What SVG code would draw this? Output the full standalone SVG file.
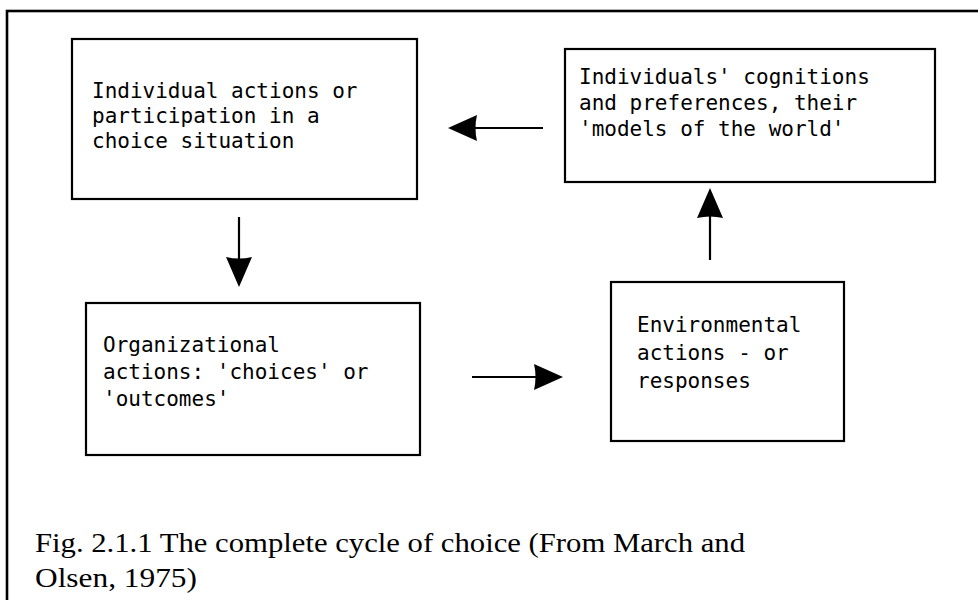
<svg xmlns="http://www.w3.org/2000/svg" width="978" height="600" viewBox="0 0 978 600">
  <style>
    .box { fill: #fff; stroke: #000; stroke-width: 2.2; }
    .label { font-family: "DejaVu Sans Mono", "Liberation Mono", monospace; font-size: 21px; fill: #000; }
    .edge { stroke: #000; stroke-width: 2.2; fill: none; }
    .head { fill: #000; stroke: none; }
    .caption { font-family: "Liberation Serif", "DejaVu Serif", serif; font-size: 28px; fill: #000; }
  </style>

  <rect x="0" y="0" width="978" height="600" fill="#fff"/>
  <!-- outer frame, open to the right and bottom -->
  <rect x="7" y="11" width="1000" height="700" fill="none" stroke="#000" stroke-width="2.6"/>

  <g id="node-individual-actions">
    <rect class="box" x="72" y="39" width="345" height="160"/>
    <text class="label" x="92" y="98">Individual actions or</text>
    <text class="label" x="92" y="123">participation in a</text>
    <text class="label" x="92" y="148">choice situation</text>
  </g>

  <g id="node-cognitions">
    <rect class="box" x="565" y="49" width="370" height="133"/>
    <text class="label" x="579" y="84">Individuals' cognitions</text>
    <text class="label" x="579" y="110">and preferences, their</text>
    <text class="label" x="579" y="136">'models of the world'</text>
  </g>

  <g id="node-organizational-actions">
    <rect class="box" x="86" y="303" width="334" height="152"/>
    <text class="label" x="103" y="352">Organizational</text>
    <text class="label" x="103" y="379">actions: 'choices' or</text>
    <text class="label" x="103" y="406">'outcomes'</text>
  </g>

  <g id="node-environmental-actions">
    <rect class="box" x="611" y="282" width="233" height="159"/>
    <text class="label" x="637" y="332">Environmental</text>
    <text class="label" x="637" y="360">actions - or</text>
    <text class="label" x="637" y="388">responses</text>
  </g>

  <g id="connectors">
    <!-- cognitions -> individual actions -->
    <line class="edge" x1="543" y1="128" x2="474" y2="128"/>
    <path class="head" d="M448,128 L477,115 Q474,128 477,141 Z"/>
    <!-- individual actions -> organizational actions -->
    <line class="edge" x1="239" y1="217" x2="239" y2="260"/>
    <path class="head" d="M239,287 L226,257 Q239,260 252,257 Z"/>
    <!-- organizational actions -> environmental actions -->
    <line class="edge" x1="472" y1="377" x2="537" y2="377"/>
    <path class="head" d="M563,377 L534,364 Q537,377 534,390 Z"/>
    <!-- environmental actions -> cognitions -->
    <line class="edge" x1="710" y1="260" x2="710" y2="216"/>
    <path class="head" d="M710,188 L697,218 Q710,215 723,218 Z"/>
  </g>

  <text class="caption" x="35" y="552" textLength="710" lengthAdjust="spacingAndGlyphs">Fig. 2.1.1 The complete cycle of choice (From March and</text>
  <text class="caption" x="35" y="587" textLength="162" lengthAdjust="spacingAndGlyphs">Olsen, 1975)</text>
</svg>
